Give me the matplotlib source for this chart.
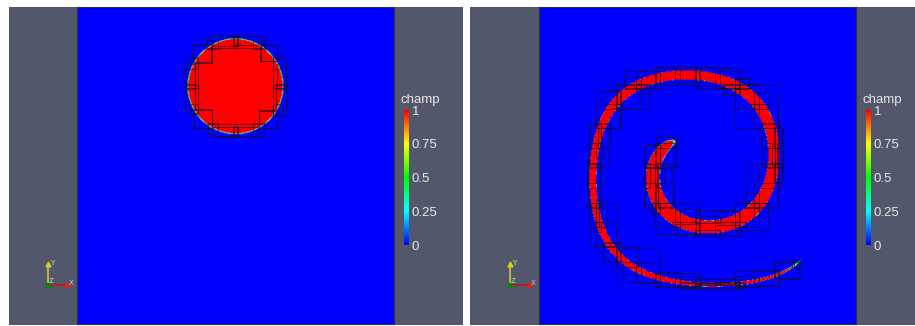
import numpy as np
import matplotlib
matplotlib.use("Agg")
import matplotlib.pyplot as plt
from matplotlib.colors import LinearSegmentedColormap, Normalize
from matplotlib.cm import ScalarMappable
from matplotlib.patches import Rectangle

W, H = 915, 326
field_name = "champ"
tick_values = [0, 0.25, 0.5, 0.75, 1]
tick_labels = ["0", "0.25", "0.5", "0.75", "1"]
circle_center = (0.5, 0.75)
circle_radius = 0.15
times = [0.0, 2.0]          # left: initial disk, right: after vortex deformation
grid_n = 384
box_levels = [8, 16]        # patch blocks per side for the two refinement levels
box_pads = [2, 3]

gray = "#52576b"
cmap = LinearSegmentedColormap.from_list(
    "bluered", ["#0000ff", "#00ffff", "#00ff00", "#ffff00", "#ff0000"])


def vel(x, y):
    u = -np.sin(np.pi * x) ** 2 * np.sin(2 * np.pi * y)
    v = np.sin(np.pi * y) ** 2 * np.sin(2 * np.pi * x)
    return u, v


def backtrace(x, y, t, dt=0.01):
    for _ in range(int(round(t / dt))):
        k1 = vel(x, y)
        k2 = vel(x - 0.5 * dt * k1[0], y - 0.5 * dt * k1[1])
        k3 = vel(x - 0.5 * dt * k2[0], y - 0.5 * dt * k2[1])
        k4 = vel(x - dt * k3[0], y - dt * k3[1])
        x = x - dt / 6 * (k1[0] + 2 * k2[0] + 2 * k3[0] + k4[0])
        y = y - dt / 6 * (k1[1] + 2 * k2[1] + 2 * k3[1] + k4[1])
    return x, y


def field_at(t):
    s = (np.arange(grid_n) + 0.5) / grid_n
    X, Y = np.meshgrid(s, s)
    X0, Y0 = backtrace(X, Y, t)
    phi = circle_radius - np.hypot(X0 - circle_center[0], Y0 - circle_center[1])
    return np.clip(0.5 + phi * grid_n / 1.5, 0, 1)


def px_axes(fig, x0, y0, x1, y1):
    return fig.add_axes([x0 / W, 1 - y1 / H, (x1 - x0) / W, (y1 - y0) / H])


fig = plt.figure(figsize=(W / 100, H / 100), dpi=100)
fig.patch.set_facecolor("white")

panels = [(9, 463, 77), (470, 915, 539)]
for (gx0, gx1, bx0), t in zip(panels, times):
    bg = px_axes(fig, gx0, 7, gx1, 325)
    bg.set_facecolor(gray)
    bg.set_xlim(gx0, gx1)
    bg.set_ylim(325, 7)
    bg.set_xticks([])
    bg.set_yticks([])
    for s in bg.spines.values():
        s.set_visible(False)

    # axes triad
    ox, oy = bx0 - 29, 285
    bg.plot([ox, ox], [oy, oy - 21], color="#b8b040", lw=1.5)
    bg.plot([ox, ox + 20], [oy, oy], color="#b02020", lw=1.5)
    bg.plot([ox], [oy - 21], marker="^", color="#d8d020", ms=3.5)
    bg.plot([ox + 20], [oy], marker=">", color="#e02020", ms=3.5)
    bg.plot([ox], [oy], marker="s", color="#108010", ms=3.5)
    bg.text(ox + 2, oy - 22, "Y", color="#e0e0c0", fontsize=5, va="center")
    bg.text(ox + 21, oy - 2, "X", color="#e0c0c0", fontsize=5, va="center")
    bg.text(ox + 1, oy - 4, "Z", color="#c0e0c0", fontsize=5, va="center")

    # field
    f = field_at(t)
    ax = px_axes(fig, bx0, 7, bx0 + 317, 324)
    ax.imshow(f, cmap=cmap, vmin=0, vmax=1, origin="lower",
              extent=[0, 1, 0, 1], interpolation="bilinear")
    ax.set_xlim(0, 1)
    ax.set_ylim(0, 1)
    ax.set_xticks([])
    ax.set_yticks([])
    for s in ax.spines.values():
        s.set_color("#303040")
        s.set_linewidth(0.8)

    # refinement patches: tight boxes around interface cells in each block
    inside = f > 0.5
    edge = np.zeros_like(inside)
    edge[:, 1:] |= inside[:, 1:] != inside[:, :-1]
    edge[1:, :] |= inside[1:, :] != inside[:-1, :]
    for lev, pad in zip(box_levels, box_pads):
        c = grid_n // lev
        for j in range(lev):
            for i in range(lev):
                blk = edge[j * c:(j + 1) * c, i * c:(i + 1) * c]
                if blk.sum() < 3:
                    continue
                rr, cc = np.nonzero(blk)
                x0 = (i * c + cc.min() - pad) / grid_n
                x1 = (i * c + cc.max() + 1 + pad) / grid_n
                y0 = (j * c + rr.min() - pad) / grid_n
                y1 = (j * c + rr.max() + 1 + pad) / grid_n
                ax.add_patch(Rectangle((x0, y0), x1 - x0, y1 - y0, fill=False,
                                       ec="#101030", lw=0.6, alpha=0.7))

    # colorbar
    cx = bx0 + 317 + 10
    cax = px_axes(fig, cx, 110, cx + 5, 245)
    cb = fig.colorbar(ScalarMappable(Normalize(0, 1), cmap), cax=cax,
                      ticks=tick_values)
    cb.set_ticklabels(tick_labels)
    cb.outline.set_visible(False)
    cax.tick_params(length=0, pad=2, labelsize=9.5, labelcolor="#e8e8e8")
    for lab in cax.get_yticklabels():
        lab.set_family("Liberation Sans")
    fig.text((cx + 16) / W, 1 - 100 / H, field_name, color="#e8e8e8",
             fontsize=9.5, family="Liberation Sans", ha="center", va="center")

fig.savefig("out.png", dpi=100)
